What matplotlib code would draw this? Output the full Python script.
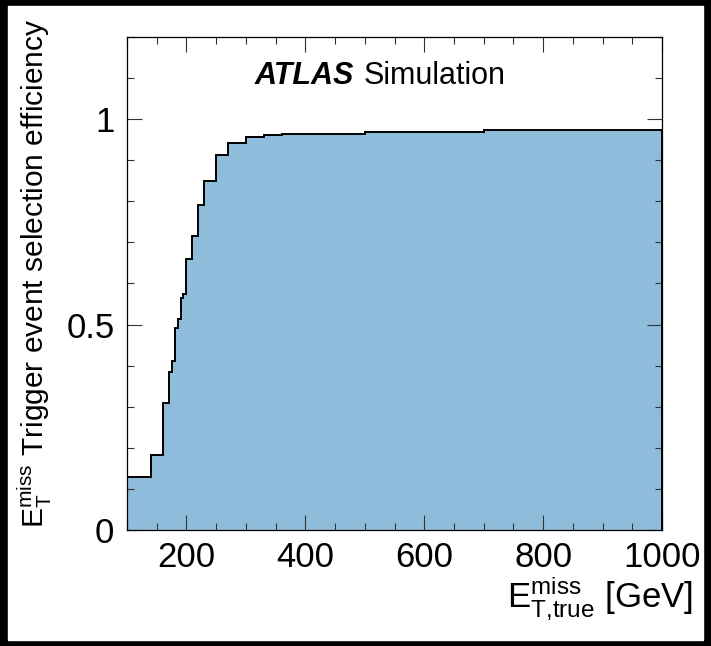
import numpy as np
import matplotlib
matplotlib.use("Agg")
from matplotlib import pyplot as plt
from matplotlib.patches import Rectangle
from matplotlib.ticker import MultipleLocator

# bin edges [GeV] and efficiency per bin
bin_edges = [100, 140, 160, 170, 175, 180, 185, 190, 195, 200, 210, 220,
             230, 250, 270, 300, 330, 360, 500, 700, 1000]
efficiency = [0.130, 0.182, 0.310, 0.385, 0.411, 0.492, 0.514, 0.564, 0.574,
              0.660, 0.715, 0.792, 0.850, 0.913, 0.941, 0.957, 0.962, 0.965,
              0.969, 0.973]
x_ticks = [200, 400, 600, 800, 1000]
y_ticks = [0, 0.5, 1]
y_tick_labels = ['0', '0.5', '1']

plt.rcParams['font.family'] = ['Liberation Sans', 'DejaVu Sans']
plt.rcParams['mathtext.fontset'] = 'custom'
plt.rcParams['mathtext.rm'] = 'Liberation Sans'
plt.rcParams['mathtext.it'] = 'Liberation Sans:italic'
plt.rcParams['mathtext.bf'] = 'Liberation Sans:bold'

fill_col = '#8fbcdb'

fig = plt.figure(figsize=(7.11, 6.46), dpi=100, facecolor='black')
# white page inside the black frame
fig.patches.append(Rectangle((8/711, 6/646), 695/711, 634/646,
                             transform=fig.transFigure, color='white', zorder=-5))

ax = fig.add_axes([127/711, 1 - 530/646, 535/711, 493/646])
ax.set_facecolor('white')
ax.stairs(efficiency, bin_edges, fill=True, color=fill_col, zorder=1)
ax.stairs(efficiency, bin_edges, color='black', lw=1.4, zorder=2)

ax.set_xlim(100, 1000)
ax.set_ylim(0, 1.2)
ax.set_xticks(x_ticks)
ax.set_yticks(y_ticks)
ax.set_yticklabels(y_tick_labels)
ax.xaxis.set_minor_locator(MultipleLocator(50))
ax.yaxis.set_minor_locator(MultipleLocator(0.1))
ax.tick_params(which='both', direction='in', top=True, right=True,
               color='#333333', width=0.8, labelsize=25)
ax.tick_params(which='major', length=11)
ax.tick_params(which='minor', length=5)
ax.tick_params(axis='y', pad=9)
ax.tick_params(axis='x', pad=8)
for sp in ax.spines.values():
    sp.set_linewidth(0.9)
    sp.set_zorder(3)

ax.text(0.239, 0.905, 'ATLAS', transform=ax.transAxes, fontsize=22,
        fontweight='bold', fontstyle='italic', va='baseline')
ax.text(0.442, 0.905, 'Simulation', transform=ax.transAxes, fontsize=22,
        va='baseline')

fig.text(35/711, 1 - 273/646,
         r'$\mathrm{E}_{\mathrm{T}}^{\mathrm{miss}}$ Trigger event selection efficiency',
         rotation=90, ha='center', va='center', fontsize=21.5)
fig.text(693/711, 1 - 598/646, r'$\mathrm{E}_{\mathrm{T{,}true}}^{\mathrm{miss}}$ [GeV]',
         ha='right', va='center', fontsize=25)

fig.savefig('out.png', dpi=100, facecolor='black')
